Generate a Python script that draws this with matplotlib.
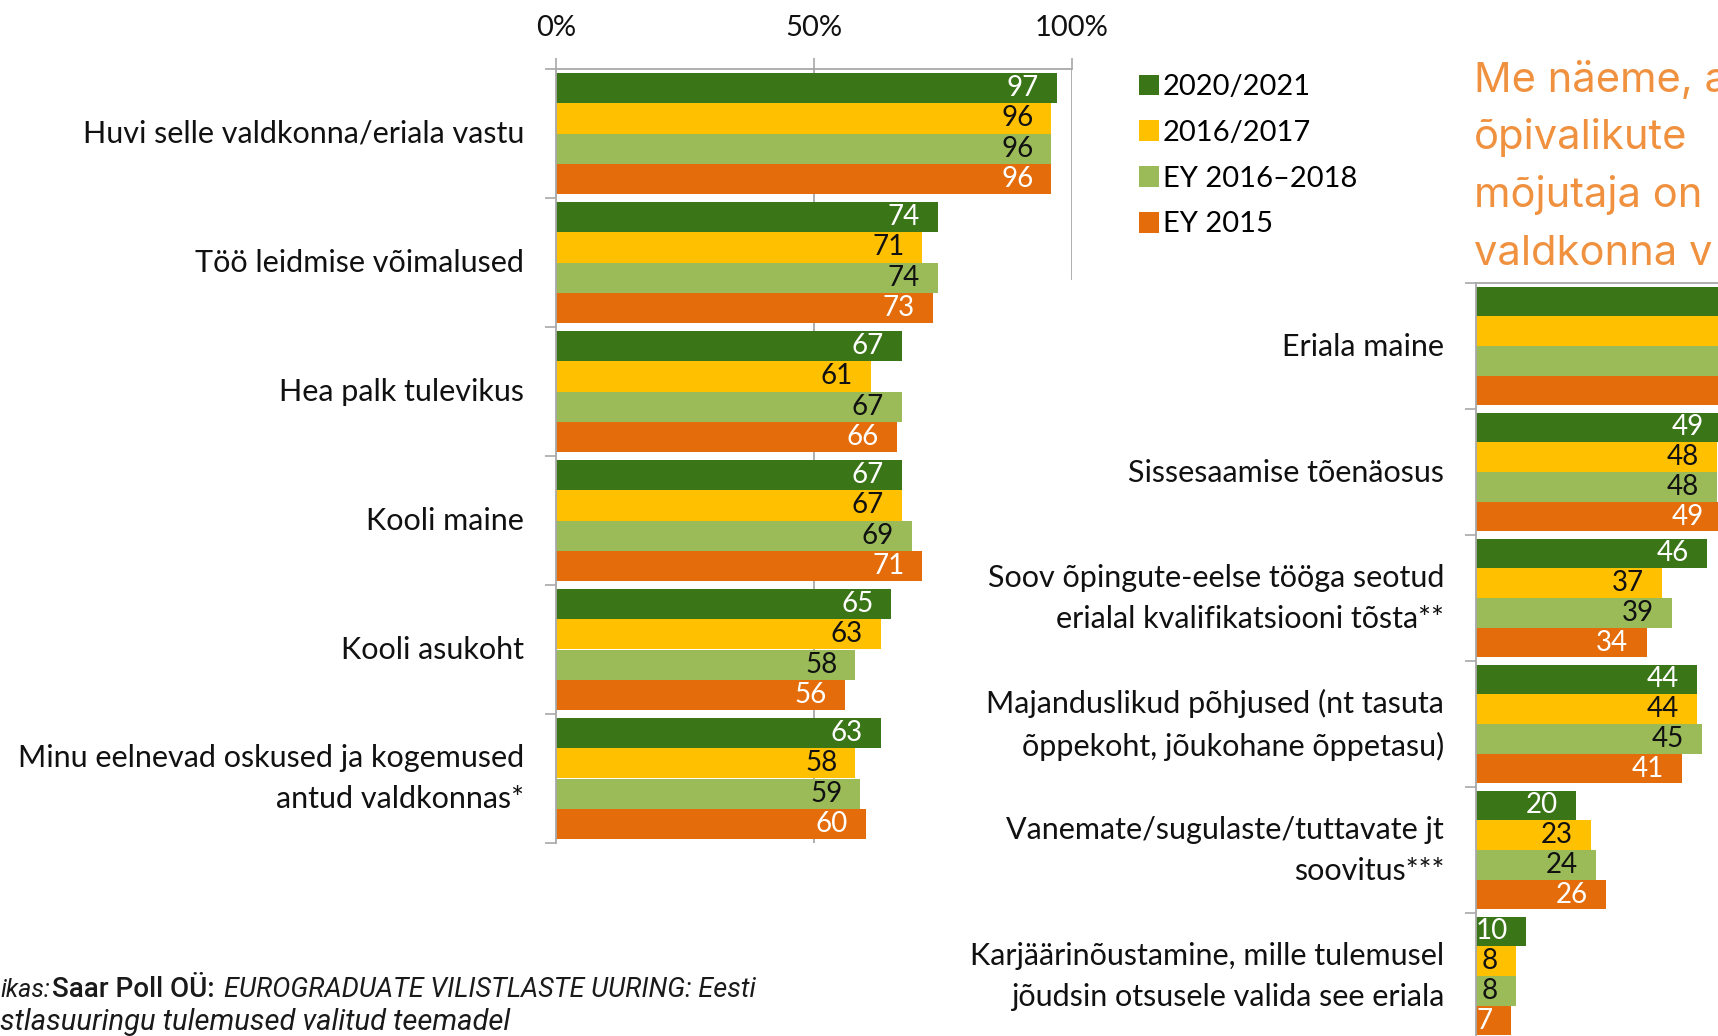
import matplotlib
matplotlib.use('Agg')
import matplotlib.pyplot as plt
from matplotlib import font_manager
from matplotlib.transforms import ScaledTranslation
import numpy as np


def pick(*names):
    have = {f.name for f in font_manager.fontManager.ttflist}
    for n in names:
        if n in have:
            return n
    return 'DejaVu Sans'


BODY = pick('Lato', 'Carlito', 'Open Sans')
HEAD = pick('Inter', 'Roboto')
SMALL = pick('Roboto', 'Liberation Sans')

SERIES = ['2020/2021', '2016/2017', 'EY 2016–2018', 'EY 2015']
COLORS = ['#3A7518', '#FFC000', '#9BBB59', '#E46C0A']
LABEL_COLORS = ['white', '#111111', '#111111', 'white']
GRID = '#A8A8A8'
ORANGE = '#F0913F'

LEFT_CATS = ['Huvi selle valdkonna/eriala vastu',
             'Töö leidmise võimalused',
             'Hea palk tulevikus',
             'Kooli maine',
             'Kooli asukoht',
             'Minu eelnevad oskused ja kogemused\nantud valdkonnas*']
LEFT_2020 = [97, 74, 67, 67, 65, 63]
LEFT_2016 = [96, 71, 61, 67, 63, 58]
LEFT_EY1618 = [96, 74, 67, 69, 58, 59]
LEFT_EY15 = [96, 73, 66, 71, 56, 60]

RIGHT_CATS = ['Eriala maine',
              'Sissesaamise tõenäosus',
              'Soov õpingute-eelse tööga seotud\nerialal kvalifikatsiooni tõsta**',
              'Majanduslikud põhjused (nt tasuta\nõppekoht, jõukohane õppetasu)',
              'Vanemate/sugulaste/tuttavate jt\nsoovitus***',
              'Karjäärinõustamine, mille tulemusel\njõudsin otsusele valida see eriala']
# first group runs past the picture edge, its values are not readable
RIGHT_2020 = [62, 49, 46, 44, 20, 10]
RIGHT_2016 = [60, 48, 37, 44, 23, 8]
RIGHT_EY1618 = [61, 48, 39, 45, 24, 8]
RIGHT_EY15 = [63, 49, 34, 41, 26, 7]

HEADING = ['Me näeme, a', 'õpivalikute', 'mõjutaja on', 'valdkonna v']

W, H = 1718, 1036
fig = plt.figure(figsize=(W / 100, H / 100), dpi=100)


def px_axes(x0, y0, x1, y1):
    return fig.add_axes([x0 / W, 1 - y1 / H, (x1 - x0) / W, (y1 - y0) / H])


BAR_H = 0.236


def draw(ax, cats, series, xmax, pad):
    n = len(cats)
    handles = []
    for k, vals in enumerate(series):
        ys = np.arange(n) + 0.5 + (k - 1.5) * BAR_H
        b = ax.barh(ys, vals, height=BAR_H, color=COLORS[k], zorder=2)
        handles.append(b)
        for v, yy in zip(vals, ys):
            if v > xmax + 3:
                continue
            ax.annotate(str(v), xy=(v, yy), xytext=(-13, 0), textcoords='offset points',
                        ha='right', va='center', color=LABEL_COLORS[k],
                        fontsize=20, family=BODY, annotation_clip=False)
    ax.set_xlim(0, xmax)
    ax.set_ylim(n, 0)
    ax.set_yticks(np.arange(n + 1))
    ax.set_yticklabels([])
    ax.set_yticks(np.arange(n) + 0.5, minor=True)
    ax.set_yticklabels(cats, minor=True, fontsize=22, family=BODY,
                       linespacing=1.58, color='#111111')
    ax.tick_params(axis='y', which='major', direction='out', length=8,
                   width=1.2, color=GRID)
    ax.tick_params(axis='y', which='minor', length=0, pad=pad)
    # two-line labels sit a bit higher in the original
    for lab in ax.get_yticklabels(minor=True):
        dy = 9 if '\n' in lab.get_text() else 2
        lab.set_transform(lab.get_transform() +
                          ScaledTranslation(0, dy / 100, fig.dpi_scale_trans))
    for s in ['right', 'bottom']:
        ax.spines[s].set_visible(False)
    for s in ['left', 'top']:
        ax.spines[s].set_color(GRID)
        ax.spines[s].set_linewidth(1.3)
    ax.set_facecolor('none')
    return handles


# left chart
ax1 = px_axes(556, 69, 1072, 843)
ax1.xaxis.tick_top()
ax1.set_xticks([0, 50, 100])
ax1.set_xticklabels(['0%', '50%', '100%'], fontsize=21, family=BODY, color='#111111')
ax1.tick_params(axis='x', direction='out', length=8, width=1.2, color=GRID, pad=12)
handles = draw(ax1, LEFT_CATS, [LEFT_2020, LEFT_2016, LEFT_EY1618, LEFT_EY15], 100, 23)
ax1.axvline(50, color=GRID, lw=1.3, zorder=1)
ax1.axvline(100, ymin=0.729, ymax=1, color=GRID, lw=1.3, zorder=1)

# right chart, cut by the right edge (503 px per 100 %)
ax2 = px_axes(1475.5, 283, W, 283 + 126 * 6)
ax2.tick_params(axis='x', top=False, bottom=False, labeltop=False, labelbottom=False)
draw(ax2, RIGHT_CATS, [RIGHT_2020, RIGHT_2016, RIGHT_EY1618, RIGHT_EY15],
     (W - 1475.5) / 5.03, 22.5)

fig.legend(handles, SERIES, loc='upper left', bbox_to_anchor=(1139 / W, 1 - 74 / H),
           frameon=False, prop={'family': BODY, 'size': 21},
           handlelength=0.7, handleheight=0.7, handletextpad=0.12,
           labelspacing=0.68, borderaxespad=0, borderpad=0)

for line, base in zip(HEADING, [92, 149, 207, 265]):
    fig.text(1474 / W, 1 - base / H, line, fontsize=30, color=ORANGE,
             family=HEAD, va='baseline')

# source note, cut at the left edge
src_y = 1 - 997 / H
fig.text(0, src_y, 'ikas:', fontsize=18, style='italic', family=SMALL,
         color='#1a1a1a', va='baseline')
fig.text(52 / W, src_y, 'Saar Poll OÜ:', fontsize=20, weight='medium', family=SMALL,
         color='#1a1a1a', va='baseline')
fig.text(224 / W, src_y, 'EUROGRADUATE VILISTLASTE UURING: Eesti', fontsize=19.5,
         style='italic', family=SMALL, color='#1a1a1a', va='baseline')
fig.text(0, 1 - 1030 / H, 'stlasuuringu tulemused valitud teemadel', fontsize=21,
         style='italic', family=SMALL, color='#1a1a1a', va='baseline')

fig.savefig('out.png', dpi=100, facecolor='white')
